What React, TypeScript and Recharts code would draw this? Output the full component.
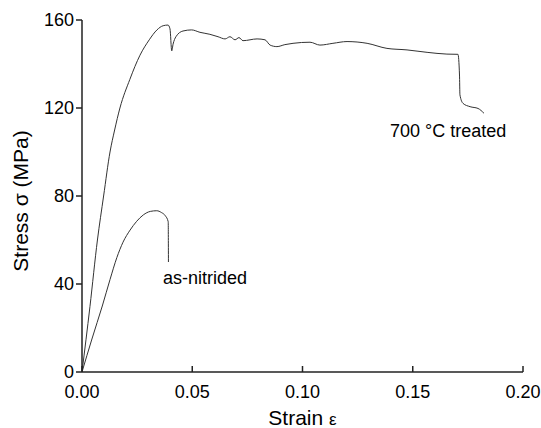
import { Line, LineChart, ReferenceDot, XAxis, YAxis } from 'recharts';

const treatedStrain = [
  0, 0.0036, 0.007, 0.0098, 0.0127, 0.0148, 0.0172, 0.0217, 0.0263, 0.0305, 0.034, 0.0368,
  0.039, 0.0399, 0.0407, 0.0413, 0.0426, 0.0458, 0.0497, 0.0535, 0.058, 0.0617, 0.0649,
  0.0671, 0.0694, 0.0712, 0.073, 0.0794, 0.083, 0.0853, 0.0884, 0.092, 0.0957, 0.1034,
  0.1079, 0.1138, 0.1202, 0.1293, 0.1383, 0.1474, 0.1565, 0.1655, 0.1705, 0.1712, 0.1714,
  0.1728, 0.176, 0.1796, 0.1823,
];
const treatedStress = [
  0, 29.7, 60, 80, 100, 110, 120, 133, 144, 151, 155.5, 157.4, 157.7, 156, 146, 149, 152.4,
  155, 155.5, 154.4, 153.5, 152.4, 151.4, 152.4, 151, 152, 150.6, 151.4, 151, 148.6, 147.9,
  148.8, 149.4, 149.9, 148.6, 149.4, 150.2, 149.4, 147.1, 146.4, 145.3, 144.5, 144.4, 135,
  126, 122.1, 120.6, 119.8, 117.6,
];

const nitridedStrain = [
  0, 0.0045, 0.0092, 0.0127, 0.0158, 0.0186, 0.0218, 0.0248, 0.0278, 0.031, 0.0339, 0.036,
  0.0378, 0.0391, 0.0392,
];
const nitridedStress = [0, 15, 30, 42, 52, 59, 64.5, 68.5, 71.4, 73, 73.3, 72.5, 71, 68.3, 50];

const strainTicks = [0, 0.05, 0.1, 0.15, 0.2];
const stressTicks = [0, 40, 80, 120, 160];

const toPoints = (xs: number[], ys: number[]) => xs.map((strain, i) => ({ strain, stress: ys[i] }));

const treated = toPoints(treatedStrain, treatedStress);
const nitrided = toPoints(nitridedStrain, nitridedStress);

const FONT = '"Liberation Sans", Arial, sans-serif';
const AXIS = '#222';
const CURVE = '#333';

function StrainTick({ x, y, payload }: any) {
  return (
    <g>
      <line x1={x} y1={y} x2={x} y2={y - 6} stroke={AXIS} strokeWidth={1.5} />
      <text x={x} y={y + 26} textAnchor="middle" fontSize={18} fontFamily={FONT} fill="#000">
        {Number(payload.value).toFixed(2)}
      </text>
    </g>
  );
}

function noteLabel(text: React.ReactNode) {
  return ({ viewBox }: any) => (
    <text x={viewBox.x} y={viewBox.y} fontSize={18} fontFamily={FONT} fill="#000">
      {text}
    </text>
  );
}

export default function App() {
  return (
    <div style={{ position: 'absolute', left: 0, top: 0, background: '#fff' }}>
      <LineChart width={541} height={428} margin={{ top: 20, right: 18, bottom: 0, left: 22 }}>
        <XAxis
          type="number"
          dataKey="strain"
          domain={[0, 0.2]}
          ticks={strainTicks}
          allowDataOverflow
          height={56}
          tickSize={0}
          tickMargin={0}
          tickLine={false}
          axisLine={{ stroke: AXIS, strokeWidth: 1.5 }}
          tick={<StrainTick />}
          label={{
            content: ({ viewBox }: any) => (
              <text
                x={viewBox.x + viewBox.width / 2}
                y={viewBox.y + viewBox.height - 3}
                textAnchor="middle"
                fontSize={21}
                fontFamily={FONT}
                fill="#000"
              >
                Strain <tspan fontSize={17}>ε</tspan>
              </text>
            ),
          }}
        />
        <XAxis
          xAxisId="top"
          orientation="top"
          type="number"
          domain={[0, 0.2]}
          height={0}
          tick={false}
          tickLine={false}
          axisLine={{ stroke: AXIS, strokeWidth: 1.5 }}
        />
        <YAxis
          type="number"
          domain={[0, 160]}
          ticks={stressTicks}
          width={60}
          tickSize={6}
          tickMargin={2}
          tickLine={{ stroke: AXIS, strokeWidth: 1.5 }}
          axisLine={{ stroke: AXIS, strokeWidth: 1.5 }}
          tick={{ fontSize: 18, fontFamily: FONT, fill: '#000' }}
          label={{
            content: ({ viewBox }: any) => {
              const cx = viewBox.x + 6;
              const cy = viewBox.y + viewBox.height / 2 + 5;
              return (
                <text
                  x={cx}
                  y={cy}
                  transform={`rotate(-90 ${cx} ${cy})`}
                  textAnchor="middle"
                  fontSize={21}
                  fontFamily={FONT}
                  fill="#000"
                >
                  Stress σ (MPa)
                </text>
              );
            },
          }}
        />
        <YAxis
          yAxisId="right"
          orientation="right"
          type="number"
          domain={[0, 160]}
          width={0}
          tick={false}
          tickLine={false}
          axisLine={{ stroke: AXIS, strokeWidth: 1.5 }}
        />
        <Line
          data={treated}
          dataKey="stress"
          type="monotone"
          stroke={CURVE}
          strokeWidth={1}
          dot={false}
          isAnimationActive={false}
        />
        <Line
          data={nitrided}
          dataKey="stress"
          type="monotone"
          stroke={CURVE}
          strokeWidth={1}
          dot={false}
          isAnimationActive={false}
        />
        <ReferenceDot
          x={0.0367}
          y={40}
          r={0}
          fill="none"
          stroke="none"
          ifOverflow="visible"
          label={{ content: noteLabel('as-nitrided') }}
        />
        <ReferenceDot
          x={0.1397}
          y={107}
          r={0}
          fill="none"
          stroke="none"
          ifOverflow="visible"
          label={{ content: noteLabel('700 °C treated') }}
        />
      </LineChart>
    </div>
  );
}
